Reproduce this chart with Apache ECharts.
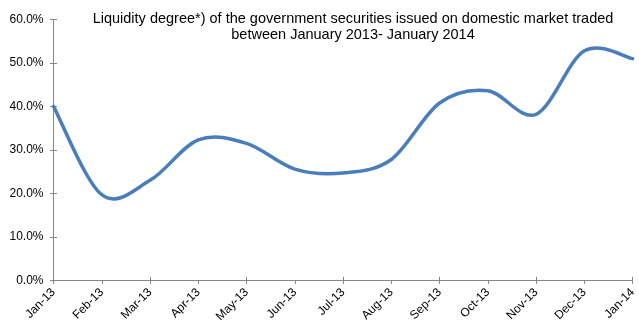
<!DOCTYPE html>
<html>
<head>
<meta charset="utf-8">
<script src="https://cdn.jsdelivr.net/npm/echarts@6/dist/echarts.min.js"></script>
<style>
  html, body { margin: 0; padding: 0; background: #fff; }
  #chart { width: 639px; height: 325px; }
</style>
</head>
<body>
<div id="chart"></div>
<script>
// Monthly observation points
const months = ['Jan-13', 'Feb-13', 'Mar-13', 'Apr-13', 'May-13', 'Jun-13', 'Jul-13',
                'Aug-13', 'Sep-13', 'Oct-13', 'Nov-13', 'Dec-13', 'Jan-14'];

// Liquidity degree, percent
const liquidity = [40.0, 19.7, 23.0, 32.3, 31.5, 25.6, 24.7, 27.8, 40.8, 43.6, 38.2, 52.8, 51.0];

// Value axis range, percent
const yMin = 0;
const yMax = 60;
const yStep = 10;

const titleLines = [
  'Liquidity degree*) of the government securities issued on domestic market traded',
  'between January 2013- January 2014'
];

const axisGray = '#868686';
const lineBlue = '#4A7EBB';
const font = 'Arial, "Liberation Sans", sans-serif';

// Smooth curve through every point (Catmull-Rom converted to cubic Bezier segments)
function smoothPath(pts) {
  let d = 'M' + pts[0][0] + ' ' + pts[0][1];
  for (let i = 0; i < pts.length - 1; i++) {
    const p0 = pts[Math.max(i - 1, 0)];
    const p1 = pts[i];
    const p2 = pts[i + 1];
    const p3 = pts[Math.min(i + 2, pts.length - 1)];
    const c1x = p1[0] + (p2[0] - p0[0]) / 6;
    const c1y = p1[1] + (p2[1] - p0[1]) / 6;
    const c2x = p2[0] - (p3[0] - p1[0]) / 6;
    const c2y = p2[1] - (p3[1] - p1[1]) / 6;
    d += ' C' + c1x + ' ' + c1y + ' ' + c2x + ' ' + c2y + ' ' + p2[0] + ' ' + p2[1];
  }
  return d;
}

const chart = echarts.init(document.getElementById('chart'), null, { renderer: 'canvas' });

const labelStyle = { fontFamily: font, fontSize: 12, color: '#000000' };

chart.setOption({
  animation: false,
  backgroundColor: '#ffffff',
  title: {
    text: titleLines.join('\n'),
    left: 348,
    top: 6,
    textAlign: 'center',
    textStyle: {
      fontFamily: font,
      fontSize: 14.5,
      fontWeight: 'normal',
      color: '#000000',
      lineHeight: 16
    }
  },
  grid: {
    left: 53.5,
    right: 0.5,
    top: 19.5,
    bottom: 44.3,
    containLabel: false
  },
  xAxis: [{
    type: 'category',
    data: months,
    boundaryGap: false,
    axisLine: { lineStyle: { color: axisGray, width: 1 } },
    axisTick: { show: true, length: 3.5, lineStyle: { color: axisGray } },
    axisLabel: Object.assign({ rotate: 45, interval: 0, margin: 10 }, labelStyle),
    splitLine: { show: false }
  }, {
    // inner half of the cross tick marks
    type: 'category',
    data: months,
    position: 'bottom',
    boundaryGap: false,
    axisLine: { show: false },
    axisTick: { show: true, inside: true, length: 3.5, lineStyle: { color: axisGray } },
    axisLabel: { show: false },
    splitLine: { show: false }
  }],
  yAxis: [{
    type: 'value',
    min: yMin,
    max: yMax,
    interval: yStep,
    axisLine: { show: true, lineStyle: { color: axisGray, width: 1 } },
    axisTick: { show: true, length: 3.5, lineStyle: { color: axisGray } },
    axisLabel: Object.assign({
      margin: 10,
      formatter: v => v.toFixed(1) + '%'
    }, labelStyle),
    splitLine: { show: false }
  }, {
    type: 'value',
    position: 'left',
    min: yMin,
    max: yMax,
    interval: yStep,
    axisLine: { show: false },
    axisTick: { show: true, inside: true, length: 3.5, lineStyle: { color: axisGray } },
    axisLabel: { show: false },
    splitLine: { show: false }
  }],
  series: [{
    type: 'custom',
    xAxisIndex: 0,
    yAxisIndex: 0,
    data: liquidity.map((v, i) => [i, v]),
    encode: { x: 0, y: 1 },
    clip: false,
    renderItem: function (params, api) {
      if (params.dataIndex !== 0) return null;
      const pts = liquidity.map((v, i) => api.coord([i, v]));
      return {
        type: 'path',
        shape: { pathData: smoothPath(pts) },
        style: {
          fill: 'none',
          stroke: lineBlue,
          lineWidth: 3.5,
          lineCap: 'round',
          lineJoin: 'round'
        }
      };
    }
  }]
});
</script>
</body>
</html>
